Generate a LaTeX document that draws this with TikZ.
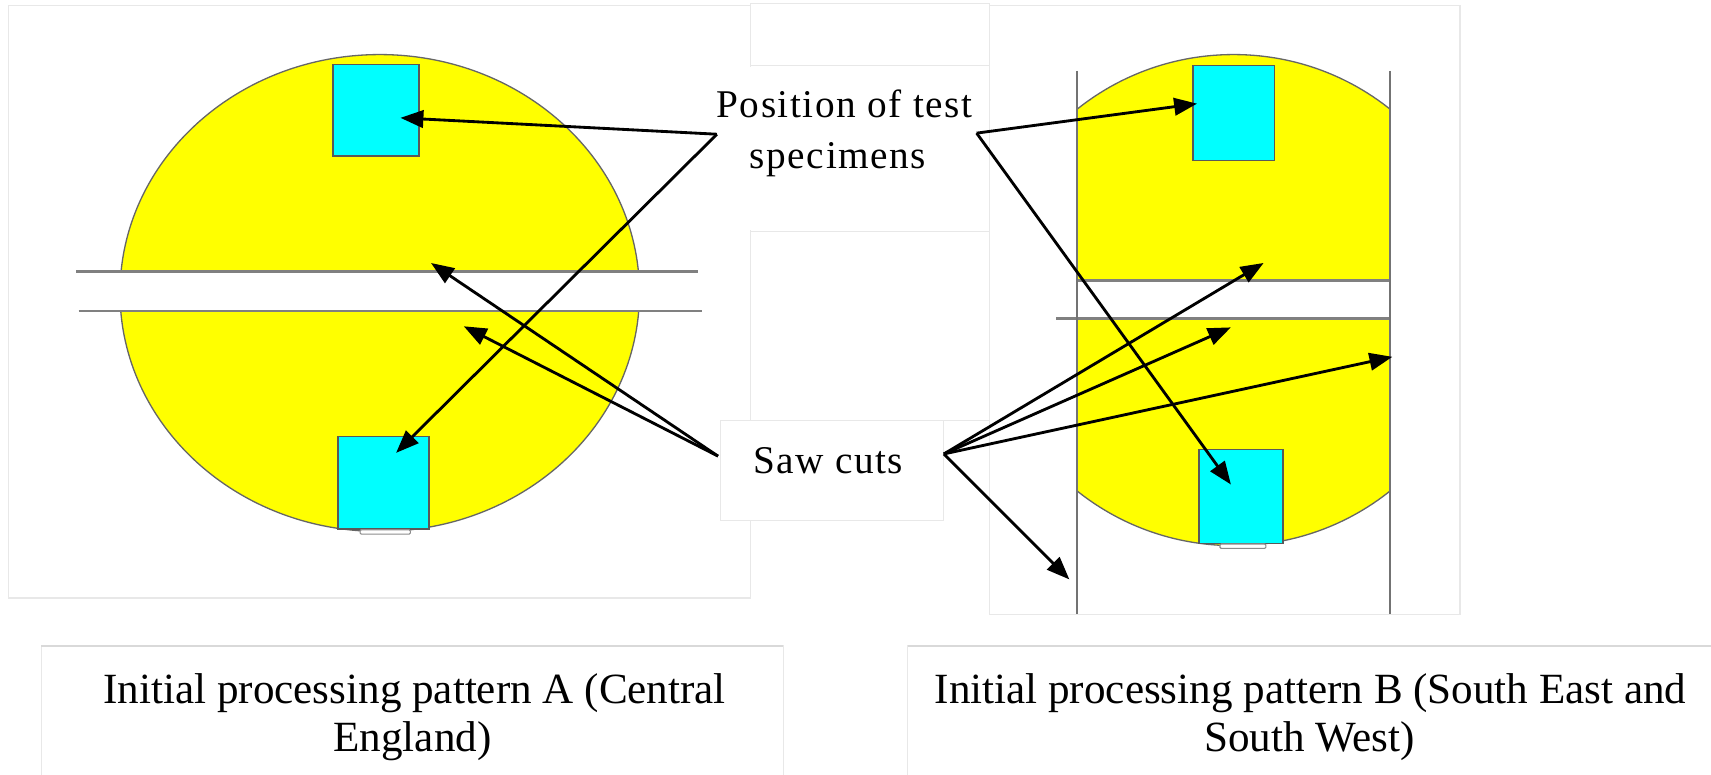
\documentclass[tikz,border=0pt]{standalone}
\usepackage{fontspec}
\setmainfont{Liberation Serif}
\usetikzlibrary{arrows.meta}
\definecolor{woodyellow}{RGB}{255,255,0}
\definecolor{speccyan}{RGB}{0,255,255}
\definecolor{faint}{RGB}{232,232,232}
\begin{document}
\begin{tikzpicture}[x=1pt,y=-1pt,
  panel/.style={draw=faint, line width=1pt},
  wood/.style={fill=woodyellow, draw=black!60, line width=1.2pt},
  spec/.style={fill=speccyan, draw=black!65, line width=1.5pt},
  cutline/.style={draw=black!50, line width=2.5pt},
  edgeline/.style={draw=black!55, line width=2pt},
  arr/.style={-{Triangle[length=21pt,width=16pt]}, line width=2.6pt, black},
  lbl/.style={font=\fontsize{36}{46}\selectfont\addfontfeature{LetterSpace=4}, inner sep=0pt, anchor=base},
  captext/.style={font=\fontsize{39.5}{44}\selectfont, inner sep=0pt, anchor=base}]
\path[use as bounding box, fill=white] (0,0) rectangle (1568,710);

% panels and text boxes
\path[panel, fill=white] (8,5) rectangle (688,548);
\path[panel, fill=white] (907,5) rectangle (1338,563);
\path[panel] (688,3) rectangle (907,60);
\path[panel] (688,212) rectangle (907,385);
\fill[white] (650,61) rectangle (906,211);
\path[panel, fill=white] (660,385) rectangle (865,477);

% caption boxes
\path[draw=faint, line width=1pt] (38,712) -- (38,592) -- (718,592) -- (718,712);
\draw[black!15, line width=2pt] (38,592) -- (718,592);
\path[draw=faint, line width=1pt] (832,712) -- (832,592) -- (1570,592);
\draw[black!15, line width=2pt] (832,592) -- (1570,592);

% ---------- pattern A ----------
\path[wood] (348,268.5) ellipse [x radius=238, y radius=218.5];
\fill[white] (100,249) rectangle (600,285);
\draw[cutline] (70,249) -- (640,249);
\draw[cutline] (72,285) -- (643,285);
\path[spec] (305,59) rectangle (384,143);
\path[spec] (310,400) rectangle (393,485);
\draw[black!45, fill=white, line width=1pt, rounded corners=1pt] (330,485.5) rectangle (376,489.5);

% ---------- pattern B ----------
\begin{scope}
  \clip (987,0) rectangle (1274,710);
  \path[wood] (1130.5,275) ellipse [x radius=228, y radius=225];
  \fill[white] (980,257) rectangle (1280,292);
\end{scope}
\draw[cutline] (987,257) -- (1274,257);
\draw[cutline] (968,292) -- (1274,292);
\draw[edgeline] (987,65) -- (987,563);
\draw[edgeline] (1274,65) -- (1274,563);
\path[spec] (1093,60) rectangle (1168,147);
\path[spec] (1099,412) rectangle (1176,498);
\draw[black!45, fill=white, line width=1pt, rounded corners=1pt] (1118,498.5) rectangle (1160,502.5);

% ---------- labels ----------
\node[lbl] (pos) at (774,108) {Position of test};
\node[lbl] (posb) at (768,154) {specimens};
\node[lbl] (saw) at (759,434) {Saw cuts};

\node[captext] (capA) at (380,645) {Initial processing pattern A (Central};
\node[captext] (capAb) at (378,689) {England)};
\node[captext] (capB) at (1201,645) {Initial processing pattern B (South East and};
\node[captext] (capBb) at (1200,689) {South West)};

% ---------- arrow anchors ----------
\coordinate (pL) at (657,123);
\coordinate (pR) at (895,122);
\coordinate (sL) at (658,418);
\coordinate (sR) at (865,416);
\coordinate (tA1) at (367,108);
\coordinate (tA2) at (363,415);
\coordinate (cA1) at (395,241);
\coordinate (cA2) at (425,299);
\coordinate (tB1) at (1097,95);
\coordinate (tB2) at (1128,444);
\coordinate (cB1) at (1158,241);
\coordinate (cB2) at (1128,300);
\coordinate (cB3) at (1276,327);
\coordinate (cB4) at (980,531);

\draw[arr] (pL) -- (tA1);
\draw[arr] (pL) -- (tA2);
\draw[arr] (pR) -- (tB1);
\draw[arr] (pR) -- (tB2);
\draw[arr] (sL) -- (cA1);
\draw[arr] (sL) -- (cA2);
\draw[arr] (sR) -- (cB1);
\draw[arr] (sR) -- (cB2);
\draw[arr] (sR) -- (cB3);
\draw[arr] (sR) -- (cB4);
\end{tikzpicture}
\end{document}
